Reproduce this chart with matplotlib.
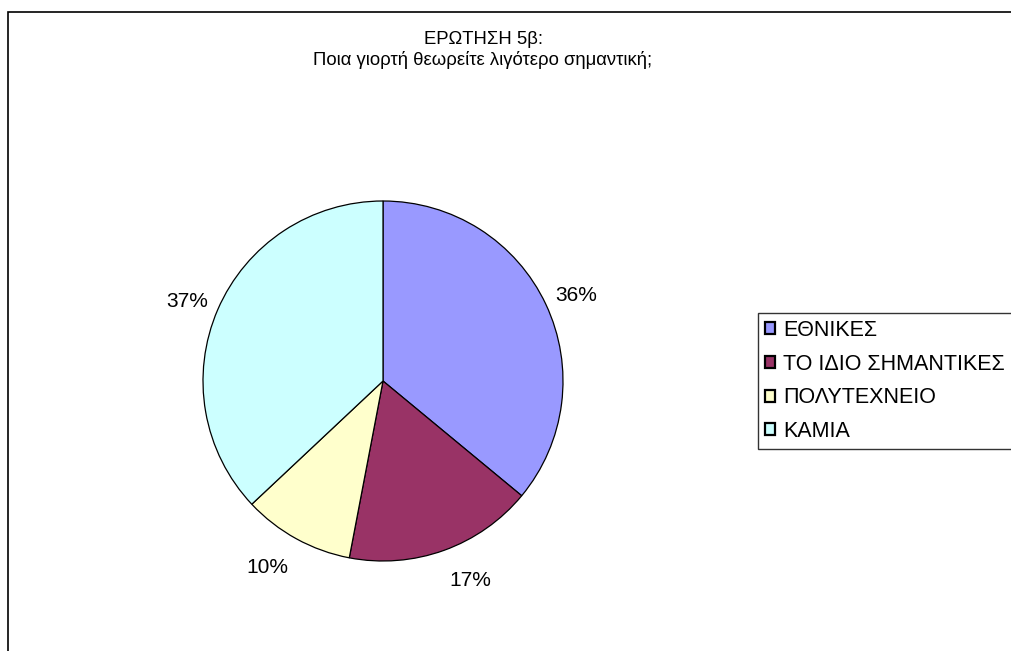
import numpy as np
import matplotlib.pyplot as plt
from matplotlib.patches import Rectangle

plt.rcParams['font.family'] = ['Liberation Sans', 'DejaVu Sans']

# answers and their shares (%)
labels = ["ΕΘΝΙΚΕΣ", "ΤΟ ΙΔΙΟ ΣΗΜΑΝΤΙΚΕΣ", "ΠΟΛΥΤΕΧΝΕΙΟ", "ΚΑΜΙΑ"]
shares = [36, 17, 10, 37]
colors = ["#9999FF", "#993366", "#FFFFCC", "#CCFFFF"]

W, H = 1011, 651
fig = plt.figure(figsize=(W / 100, H / 100), dpi=100)

# outer chart frame, runs off the right and bottom edges
fig.patches.append(Rectangle((8 / W, -0.1), 1.2, 1 - 12 / H + 0.1,
                             transform=fig.transFigure, fill=False,
                             edgecolor="black", linewidth=1.2))

ax = fig.add_axes([203 / W, 90 / H, 360 / W, 360 / H])
wedges, texts = ax.pie(shares, colors=colors, startangle=90, counterclock=False,
                       wedgeprops=dict(edgecolor="black", linewidth=0.9))
# percentage labels: the corner nearest the pie sits on a ring just outside it
for w, s in zip(wedges, shares):
    ang = np.deg2rad((w.theta1 + w.theta2) / 2)
    c, sn = np.cos(ang), np.sin(ang)
    r = 1.06 if sn > 0 else 1.09
    ax.text(r * c, r * sn - 0.03, f"{s}%",
            ha="left" if c > 0 else "right",
            va="bottom" if sn > 0 else "top", fontsize=15)
ax.set_xlim(-1, 1)
ax.set_ylim(-1, 1)
ax.set_aspect("equal")
ax.axis("off")

fig.text(483 / W, 1 - 40 / H, "ΕΡΩΤΗΣΗ 5β:", ha="center", va="center", fontsize=13.3)
fig.text(483 / W, 1 - 60 / H, "Ποια γιορτή θεωρείτε λιγότερο σημαντική;",
         ha="center", va="center", fontsize=13.3)

leg = fig.legend(wedges, labels, loc="upper left", bbox_to_anchor=(758 / W, 1 - 313 / H),
                 fontsize=15.5, frameon=True, fancybox=False, handlelength=0.47,
                 handleheight=0.47, handletextpad=0.37, labelspacing=0.59,
                 borderpad=0.32, borderaxespad=0)
leg.get_frame().set_edgecolor("black")
leg.get_frame().set_linewidth(1.0)
for h in leg.legend_handles:
    h.set_edgecolor("black")
    h.set_linewidth(1.6)

fig.savefig("out.png", dpi=100)
